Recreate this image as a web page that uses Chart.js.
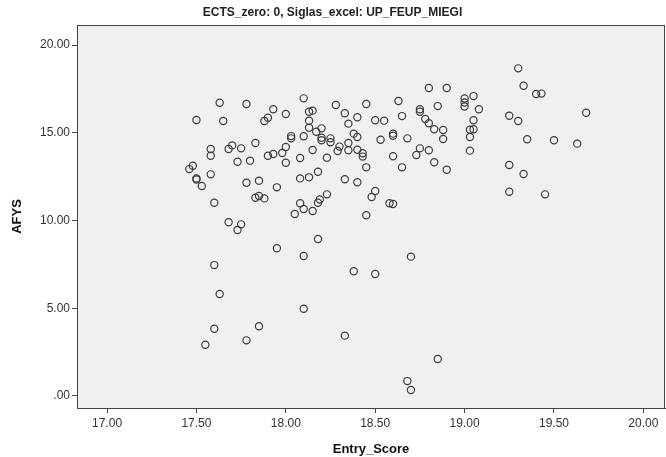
<!DOCTYPE html>
<html>
<head>
<meta charset="utf-8">
<script src="https://cdn.jsdelivr.net/npm/chart.js@4.4.1/dist/chart.umd.min.js"></script>
<style>
html,body{margin:0;padding:0;background:#fff;}
#wrap{width:666px;height:457px;}
</style>
</head>
<body>
<div id="wrap"><canvas id="c" width="666" height="457"></canvas></div>
<script>
const chartTitle = 'ECTS_zero: 0, Siglas_excel: UP_FEUP_MIEGI';
const xTitle = 'Entry_Score';
const yTitle = 'AFYS';
const xTickValues = [17, 17.5, 18, 18.5, 19, 19.5, 20];
const xTickLabels = ['17.00', '17.50', '18.00', '18.50', '19.00', '19.50', '20.00'];
const yTickValues = [0, 5, 10, 15, 20];
const yTickLabels = ['.00', '5.00', '10.00', '15.00', '20.00'];

const entryScore = [
17.63,17.78,17.50,17.65,17.93,17.90,17.88,18.00,18.10,18.13,18.15,18.13,18.13,18.17,18.10,18.03,18.03,17.83,17.70,17.68,
17.75,17.58,17.58,18.00,17.98,17.93,17.90,18.15,18.08,17.73,17.80,18.00,18.80,18.90,18.28,18.45,18.63,18.85,18.33,18.40,
18.35,18.50,18.55,18.65,18.75,18.75,18.78,18.80,18.83,18.88,18.88,18.68,18.60,18.60,18.53,18.38,18.40,18.35,18.20,18.20,
18.20,18.25,18.25,18.30,18.29,18.35,18.40,18.43,18.43,18.23,18.60,18.73,18.75,18.80,19.00,19.00,19.00,19.30,19.33,19.40,
19.43,19.68,19.25,19.30,19.35,19.50,19.63,19.05,19.08,19.05,19.03,19.05,19.03,19.03,17.46,17.48,17.50,17.50,17.53,17.58,
17.78,17.85,17.95,18.08,18.13,18.18,17.83,17.85,17.88,17.60,18.08,18.10,18.05,18.15,18.18,18.19,17.68,17.75,17.73,18.18,
17.95,18.10,18.83,18.90,18.45,18.65,18.33,18.40,18.50,18.48,18.58,18.60,18.23,18.45,18.70,19.25,19.33,19.25,19.45,17.60,
18.38,18.50,17.63,18.10,17.60,17.85,17.55,17.78,18.33,18.85,18.68,18.70
];
const afys = [
16.71,16.64,15.73,15.67,16.34,15.86,15.67,16.07,16.96,16.20,16.26,15.69,15.29,15.06,14.80,14.81,14.68,14.42,14.28,14.07,
14.11,14.07,13.69,14.19,13.85,13.79,13.69,14.02,13.56,13.35,13.41,13.29,17.55,17.55,16.58,16.64,16.81,16.52,16.11,15.88,
15.52,15.71,15.69,15.95,16.34,16.20,15.78,15.54,15.20,15.16,14.64,14.68,14.95,14.83,14.60,14.95,14.76,14.42,15.25,14.72,
14.57,14.68,14.46,14.21,13.96,14.00,14.03,13.83,13.64,13.58,13.66,13.73,14.11,14.00,16.95,16.72,16.50,18.67,17.68,17.21,
17.23,16.14,15.97,15.67,14.63,14.57,14.38,17.09,16.34,15.71,15.17,15.20,14.76,13.98,12.93,13.12,12.40,12.34,11.97,12.63,
12.15,12.27,11.89,12.40,12.46,12.78,11.30,11.40,11.26,11.01,10.98,10.66,10.37,10.54,11.01,11.20,9.90,9.78,9.46,8.95,
8.42,7.98,13.32,12.89,13.03,13.03,12.35,12.18,11.68,11.34,10.98,10.94,11.49,10.30,7.94,13.16,12.65,11.64,11.49,7.46,
7.11,6.95,5.81,4.97,3.83,3.97,2.92,3.17,3.44,2.11,0.85,0.34
];

const points = entryScore.map((x, i) => ({x: x, y: afys[i]}));

const plotBox = {
  id: 'plotBox',
  beforeDraw(chart) {
    const a = chart.chartArea, ctx = chart.ctx;
    ctx.save();
    ctx.fillStyle = '#f0f0f0';
    ctx.fillRect(a.left, a.top, a.right - a.left, a.bottom - a.top);
    ctx.restore();
  },
  afterDraw(chart) {
    const a = chart.chartArea, ctx = chart.ctx;
    ctx.save();
    ctx.strokeStyle = '#444';
    ctx.lineWidth = 1;
    ctx.strokeRect(a.left + 0.5, a.top + 0.5, a.right - a.left - 1, a.bottom - a.top);
    ctx.restore();
  }
};

new Chart(document.getElementById('c'), {
  type: 'scatter',
  data: {
    datasets: [{
      data: points,
      pointRadius: 3.6,
      pointHoverRadius: 3.6,
      pointBorderWidth: 1.2,
      pointBorderColor: '#3c3c3c',
      pointBackgroundColor: 'rgba(0,0,0,0)'
    }]
  },
  options: {
    responsive: false,
    animation: false,
    events: [],
    layout: { autoPadding: false, padding: { top: 0, right: 1, bottom: 0, left: 0 } },
    plugins: {
      legend: { display: false },
      tooltip: { enabled: false },
      title: {
        display: true,
        text: chartTitle,
        color: '#222',
        font: { family: 'Liberation Sans', size: 12, weight: 'bold', lineHeight: 1.2 },
        padding: { top: 5, bottom: 5.6 }
      }
    },
    scales: {
      x: {
        type: 'linear',
        min: 16.832,
        max: 20.121,
        afterBuildTicks: (s) => { s.ticks = xTickValues.map(v => ({value: v})); },
        afterFit: (s) => { s.height = 49; s.paddingLeft = 0; s.paddingRight = 0; },
        ticks: {
          color: '#333',
          font: { family: 'Liberation Sans', size: 12 },
          padding: 3,
          maxRotation: 0,
          callback: (v) => { const i = xTickValues.indexOf(v); return i >= 0 ? xTickLabels[i] : ''; }
        },
        grid: { display: true, drawOnChartArea: false, drawTicks: true, tickLength: 5, color: '#444', lineWidth: 1 },
        border: { display: true, color: '#444', width: 1 },
        title: {
          display: true,
          text: xTitle,
          color: '#111',
          font: { family: 'Liberation Sans', size: 13, weight: 'bold' },
          padding: { top: 3, bottom: 0 }
        }
      },
      y: {
        type: 'linear',
        min: -0.684,
        max: 21.14,
        afterBuildTicks: (s) => { s.ticks = yTickValues.map(v => ({value: v})); },
        afterFit: (s) => { s.width = 77; s.paddingTop = 0; s.paddingBottom = 0; },
        ticks: {
          color: '#333',
          font: { family: 'Liberation Sans', size: 12 },
          padding: 2,
          callback: (v) => { const i = yTickValues.indexOf(v); return i >= 0 ? yTickLabels[i] : ''; }
        },
        grid: { display: true, drawOnChartArea: false, drawTicks: true, tickLength: 5, color: '#444', lineWidth: 1 },
        border: { display: true, color: '#444', width: 1 },
        title: {
          display: true,
          text: yTitle,
          color: '#111',
          font: { family: 'Liberation Sans', size: 13, weight: 'bold' },
          padding: { top: 10, bottom: 0 }
        }
      }
    }
  },
  plugins: [plotBox]
});
</script>
</body>
</html>
